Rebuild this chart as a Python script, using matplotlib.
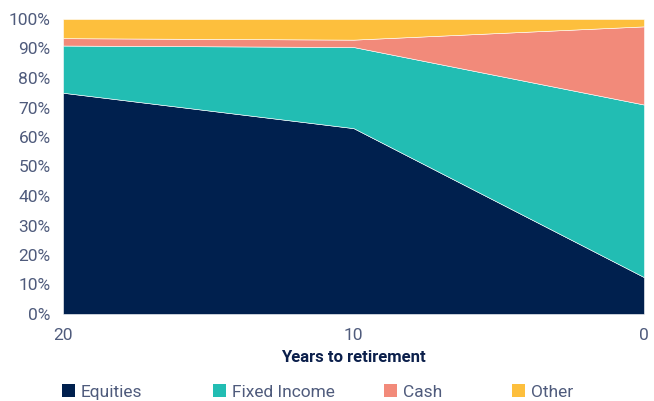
import matplotlib
matplotlib.use("Agg")
import matplotlib.pyplot as plt
from matplotlib.patches import Patch

# glide path data
years = [20, 10, 0]
equities = [75.0, 63.0, 12.5]
fixed_income = [16.0, 27.5, 58.5]
cash = [2.5, 2.5, 26.5]
other = [6.5, 7.0, 2.5]

labels = ["Equities", "Fixed Income", "Cash", "Other"]
colors = ["#00204E", "#22BDB3", "#F28A7A", "#FDBF3D"]
legend_x = [62, 213, 384, 512]

plt.rcParams["font.family"] = ["Roboto", "DejaVu Sans"]
tick_col = "#4F5B7C"
navy = "#0B1F4B"

fig = plt.figure(figsize=(6.54, 4.01), dpi=100)
ax = fig.add_axes([63 / 654, 1 - 314 / 401, (644 - 63) / 654, (314 - 19) / 401])

ax.stackplot(years, equities, fixed_income, cash, other, colors=colors,
             edgecolor="white", linewidth=0.4)

ax.set_xlim(20, 0)
ax.set_ylim(0, 100)
ax.set_xticks(years)
ax.set_xticklabels([str(y) for y in years])
ax.set_yticks(range(0, 101, 10))
ax.set_yticklabels([f"{v}%" for v in range(0, 101, 10)])
ax.tick_params(length=0, labelsize=12.5, colors=tick_col)
ax.tick_params(axis="y", pad=9)
ax.tick_params(axis="x", pad=10)
for s in ax.spines.values():
    s.set_visible(False)

ax.set_xlabel("Years to retirement", fontsize=12, fontweight="bold",
              color=navy, labelpad=5)

for lab, col, lx in zip(labels, colors, legend_x):
    fig.legend(handles=[Patch(facecolor=col, label=lab)],
               loc="center left", bbox_to_anchor=(lx / 654, 1 - 392 / 401),
               frameon=False, fontsize=12.5, handlelength=0.75, handleheight=0.75,
               handletextpad=0.35, borderpad=0, borderaxespad=0,
               labelcolor=tick_col)

fig.savefig("out.png", dpi=100)
